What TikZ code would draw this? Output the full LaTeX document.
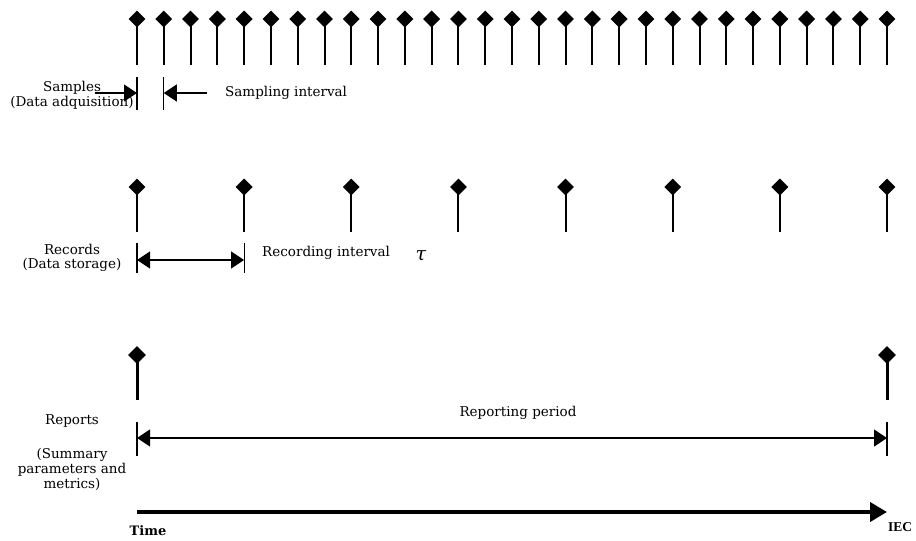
\documentclass[tikz,border=0pt]{standalone}
\usepackage{fontspec}
\setmainfont{DejaVu Serif}
\newfontfamily\timesfam{Liberation Serif}
\usetikzlibrary{shapes.geometric,arrows.meta}
\begin{document}
\begin{tikzpicture}[x=1pt,y=-1pt,
  dmd/.style={diamond,fill=black,inner sep=0pt,minimum width=17pt,minimum height=17pt},
  bigdmd/.style={dmd,minimum width=18pt,minimum height=18pt},
  stem/.style={line width=2pt},
  boldstem/.style={line width=3pt},
  tick/.style={line width=1.2pt},
  dim/.style={line width=1.3pt},
  tip/.style={-{Triangle[length=13pt,width=17pt]}},
  tips/.style={{Triangle[length=13pt,width=17pt]}-{Triangle[length=13pt,width=17pt]}},
  lbl/.style={font=\fontsize{13.5}{15}\selectfont,inner sep=0pt},
  lblc/.style={lbl,align=center}]
\useasboundingbox (0,0) rectangle (916,541);

% --- samples (data acquisition) ---
\foreach \i in {0,...,28}{
  \pgfmathsetmacro{\xs}{137+\i*26.7857}
  \node[dmd] (s\i) at (\xs,19) {};
  \coordinate (sb\i) at (\xs,65);
  \draw[stem] (s\i.center) -- (sb\i);
}
\coordinate (sit0) at (137,77);  \coordinate (sib0) at (137,110);
\coordinate (sit1) at (163.8,77); \coordinate (sib1) at (163.8,110);
\draw[tick] (sit0) -- (sib0);
\draw[tick] (sit1) -- (sib1);
\coordinate (sa0) at (137,93);  \coordinate (sa1) at (163.8,93);
\coordinate (sl) at (95,93);    \coordinate (sr) at (207,93);
\draw[dim,tip] (sl) -- (sa0);
\draw[dim,tip] (sr) -- (sa1);
\node[lbl,anchor=west] (sint) at (225,93) {Sampling interval};
\node[lbl] (samp) at (72,88) {Samples};
\node[lbl] (sampsub) at (72,103) {(Data adquisition)};

% --- records (data storage) ---
\foreach \i in {0,...,7}{
  \pgfmathsetmacro{\xr}{137+\i*107.1429}
  \node[dmd] (r\i) at (\xr,187) {};
  \coordinate (rb\i) at (\xr,232);
  \draw[stem] (r\i.center) -- (rb\i);
}
\coordinate (rit0) at (137,243);     \coordinate (rib0) at (137,273);
\coordinate (rit1) at (244.1,243);   \coordinate (rib1) at (244.1,273);
\draw[tick] (rit0) -- (rib0);
\draw[tick] (rit1) -- (rib1);
\coordinate (ra0) at (137,260);  \coordinate (ra1) at (244.1,260);
\draw[dim,tips] (ra0) -- (ra1);
\node[lbl,anchor=west] (rint) at (262,253) {Recording interval};
\node[inner sep=0pt,font=\itshape\fontsize{19}{21}\selectfont] (tau) at (421,256) {τ};
\node[lbl] (rec) at (72,249) {Records};
\node[lbl] (recsub) at (72,265) {(Data storage)};

% --- reports (summary parameters) ---
\node[bigdmd] (p0) at (137,355) {};
\node[bigdmd] (p1) at (887,355) {};
\coordinate (pb0) at (137,400);
\coordinate (pb1) at (887,400);
\draw[boldstem] (p0.center) -- (pb0);
\draw[boldstem] (p1.center) -- (pb1);
\coordinate (pit0) at (137,422); \coordinate (pib0) at (137,456);
\coordinate (pit1) at (887,422); \coordinate (pib1) at (887,456);
\draw[tick] (pit0) -- (pib0);
\draw[tick] (pit1) -- (pib1);
\coordinate (pa0) at (137,438);  \coordinate (pa1) at (887,438);
\draw[dim,tips] (pa0) -- (pa1);
\node[lbl] (pint) at (518,413) {Reporting period};
\node[lbl] (rep) at (72,421) {Reports};
\node[lblc] (repsub) at (72,469) {(Summary\\parameters and\\metrics)};

% --- time axis ---
\coordinate (t0) at (137,512);
\coordinate (t1) at (887,512);
\draw[line width=4pt,-{Triangle[length=17pt,width=19pt]}] (t0) -- (t1);
\node[inner sep=0pt,font=\bfseries\fontsize{13}{15}\selectfont] (time) at (148,531) {Time};
\node[inner sep=0pt,font=\timesfam\bfseries\fontsize{13.5}{15}\selectfont] (iec) at (900,527) {IEC};
\end{tikzpicture}
\end{document}
